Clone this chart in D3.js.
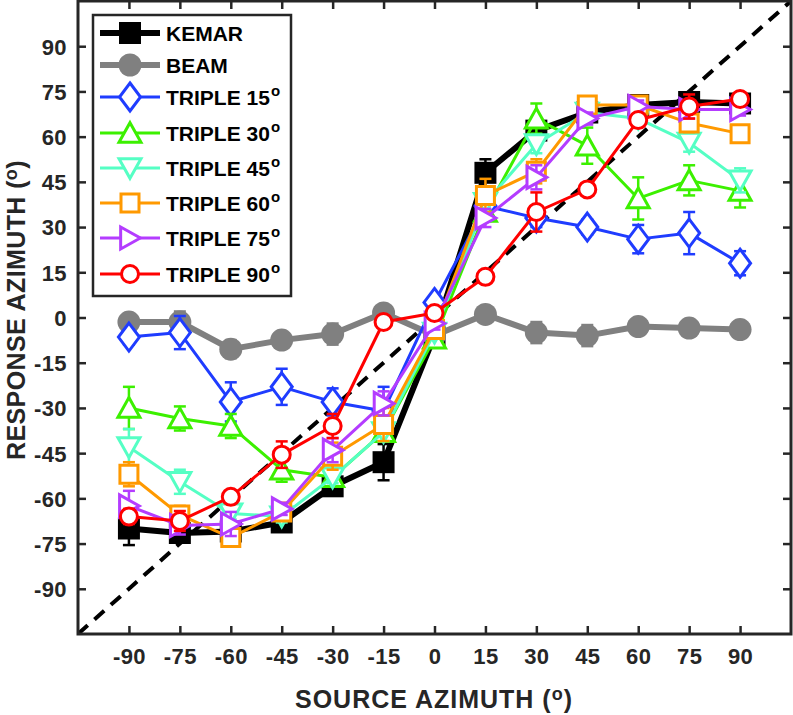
<!DOCTYPE html>
<html>
<head>
<meta charset="utf-8">
<script src="https://cdn.jsdelivr.net/npm/d3@7"></script>
<style>
  html, body { margin: 0; padding: 0; background: #fff; }
  svg { display: block; font-family: "Liberation Sans", Arial, sans-serif; font-weight: bold; }
</style>
</head>
<body>
<svg id="chart" width="793" height="715"></svg>
<script>
// ---------------- data ----------------
const sourceAz = [-90, -75, -60, -45, -30, -15, 0, 15, 30, 45, 60, 75, 90];
const tickValues = [-90, -75, -60, -45, -30, -15, 0, 15, 30, 45, 60, 75, 90];

const kemar   = [-70, -71.5, -71, -68, -56, -48, -6, 48, 62, 68, 70.5, 71.5, 71];
const beam    = [-1.5, -1.5, -10.5, -7.5, -5.5, 1.5, -6, 1, -5, -6, -3, -3.5, -4];
const triple15 = [-6.5, -5, -28, -23, -28, -31, 5, 37, 33, 30, 26, 28, 18];
const triple30 = [-30, -33.5, -36, -50.5, -53, -38, -7, 35, 66, 57, 39.5, 45.5, 42];
const triple45 = [-43, -54.5, -65, -66, -53, -38, -5, 38, 57.5, 68, 66, 58, 45.5];
const triple60 = [-52, -65.5, -73, -64.5, -46, -35.5, -4, 40.5, 48.5, 70.5, 70.5, 64.5, 61];
const triple75 = [-62.5, -69, -68.5, -63.5, -44, -28.5, -2, 33, 46.5, 66, 70, 69, 69];
const triple90 = [-66, -67.5, -59.5, -45.5, -36, -1.5, 1.5, 13.5, 35, 42.5, 65.5, 70, 72.5];

const errKemar   = [5.5, 2, 2, 2, 2, 6, 2, 4.5, 3, 2, 1.5, 2, 1.5];
const errBeam    = [2.5, 3.5, 3, 2, 3.5, 2, 2, 1.5, 3.5, 3.5, 1.5, 1.5, 1.5];
const errT15     = [2.5, 5.5, 6.5, 6, 4.5, 8, 2, 2.5, 3, 2.5, 4.7, 7, 4];
const errT30     = [7, 4, 4, 4, 2, 3, 2, 3, 5, 6, 7, 5, 5.5];
const errT45     = [6, 4, 2, 2, 2, 3, 2, 3, 3, 2, 2, 3, 4];
const errT60     = [4, 3, 2, 2, 4.5, 5.5, 2, 5.5, 4, 2, 2, 3, 2];
const errT75     = [5, 3, 4, 2, 4, 4, 2, 3, 4, 2, 2, 3, 2];
const errT90     = [2.5, 3.3, 2, 4.4, 4, 2, 2, 2, 6.5, 2, 2, 4, 2];

const seriesNames = ["KEMAR", "BEAM", "TRIPLE 15", "TRIPLE 30", "TRIPLE 45", "TRIPLE 60", "TRIPLE 75", "TRIPLE 90"];
const seriesValues = [kemar, beam, triple15, triple30, triple45, triple60, triple75, triple90];
const seriesErrors = [errKemar, errBeam, errT15, errT30, errT45, errT60, errT75, errT90];

// ---------------- styles ----------------
const styles = [
  {color: "#000000", width: 6,   marker: "square",  size: 22, fill: "#000000"},
  {color: "#808080", width: 6,   marker: "circle",  size: 23, fill: "#808080"},
  {color: "#1f3cff", width: 3,   marker: "diamond", size: 20, fill: "#ffffff"},
  {color: "#3cf000", width: 3,   marker: "tri-up",  size: 22, fill: "#ffffff"},
  {color: "#55ffc4", width: 3,   marker: "tri-down",size: 22, fill: "#ffffff"},
  {color: "#ff9900", width: 3,   marker: "square",  size: 18, fill: "#ffffff"},
  {color: "#b43cff", width: 3,   marker: "tri-right",size: 22, fill: "#ffffff"},
  {color: "#ff0000", width: 3,   marker: "circle",  size: 20, fill: "#ffffff"}
];
const legendRowY = [33, 65, 97, 133, 168, 203, 238, 274];

// ---------------- layout ----------------
const svg = d3.select("#chart");
const x = d3.scaleLinear().domain([-105, 105]).range([78, 791]);
const y = d3.scaleLinear().domain([-105, 105]).range([634, 1]);
const axisColor = "#262626";

function markerPath(type, s) {
  const h = s / 2;
  switch (type) {
    case "square": return `M${-h},${-h}H${h}V${h}H${-h}Z`;
    case "diamond": { const w = h * 1.05, v = h * 1.4; return `M0,${-v}L${w},0L0,${v}L${-w},0Z`; }
    case "tri-up": { const v = h * 0.85; return `M0,${-v - 1}L${h},${v}L${-h},${v}Z`; }
    case "tri-down": { const v = h * 0.85; return `M0,${v + 1}L${h},${-v}L${-h},${-v}Z`; }
    case "tri-right": { const v = h * 0.85; return `M${v + 1},0L${-v},${h}L${-v},${-h}Z`; }
    default: return null;
  }
}
function drawMarker(g, st, cx, cy) {
  if (st.marker === "circle") {
    g.append("circle").attr("cx", cx).attr("cy", cy)
      .attr("r", st.fill === "#ffffff" ? st.size / 2 - 1.5 : st.size / 2)
      .attr("fill", st.fill).attr("stroke", st.color)
      .attr("stroke-width", st.fill === "#ffffff" ? 3 : 0);
  } else {
    g.append("path").attr("d", markerPath(st.marker, st.size))
      .attr("transform", `translate(${cx},${cy})`)
      .attr("fill", st.fill).attr("stroke", st.color)
      .attr("stroke-width", st.fill === "#ffffff" ? 3 : 0)
      .attr("stroke-linejoin", "miter");
  }
}

// clip
svg.append("clipPath").attr("id", "plotclip").append("rect")
  .attr("x", 78).attr("y", 1).attr("width", 713).attr("height", 633);

const plot = svg.append("g").attr("clip-path", "url(#plotclip)");

// diagonal dashed line
plot.append("line")
  .attr("x1", x(-105)).attr("y1", y(-105)).attr("x2", x(105)).attr("y2", y(105))
  .attr("stroke", "#000").attr("stroke-width", 4).attr("stroke-dasharray", "13,9");

// series
seriesValues.forEach((vals, i) => {
  const st = styles[i];
  const errs = seriesErrors[i];
  const g = plot.append("g");
  const line = d3.line().x((d, j) => x(sourceAz[j])).y(d => y(d));
  g.append("path").datum(vals).attr("d", line)
    .attr("fill", "none").attr("stroke", st.color).attr("stroke-width", st.width)
    .attr("stroke-linejoin", "round");
  vals.forEach((v, j) => {
    const cx = x(sourceAz[j]);
    const e = errs[j];
    const ew = 2.5;
    g.append("line").attr("x1", cx).attr("x2", cx).attr("y1", y(v - e)).attr("y2", y(v + e))
      .attr("stroke", st.color).attr("stroke-width", ew);
    [v - e, v + e].forEach(t => {
      g.append("line").attr("x1", cx - 6).attr("x2", cx + 6).attr("y1", y(t)).attr("y2", y(t))
        .attr("stroke", st.color).attr("stroke-width", ew);
    });
  });
  vals.forEach((v, j) => drawMarker(g, st, x(sourceAz[j]), y(v)));
});

// axes (box with inward ticks on all sides)
const tickLen = 8;
const fmt = d => String(d);
const axG = svg.append("g");
const xAxisB = d3.axisBottom(x).tickValues(tickValues).tickSize(-tickLen).tickPadding(14).tickFormat(fmt);
const xAxisT = d3.axisTop(x).tickValues(tickValues).tickSize(-tickLen).tickFormat("");
const yAxisL = d3.axisLeft(y).tickValues(tickValues).tickSize(-tickLen).tickPadding(11).tickFormat(fmt);
const yAxisR = d3.axisRight(y).tickValues(tickValues).tickSize(-tickLen).tickFormat("");

function styleAxis(sel) {
  sel.select(".domain").remove();
  sel.selectAll(".tick line").attr("stroke", axisColor).attr("stroke-width", 2.5);
  sel.selectAll(".tick text").attr("fill", axisColor)
    .style("font-family", "'Liberation Sans', Arial, sans-serif")
    .style("font-weight", "bold").style("font-size", "22px")
    .style("letter-spacing", "0.4px");
}
const gxb = axG.append("g").attr("transform", "translate(0,634)").call(xAxisB).call(styleAxis);
axG.append("g").attr("transform", "translate(0,1)").call(xAxisT).call(styleAxis);
const gyl = axG.append("g").attr("transform", "translate(78,0)").call(yAxisL).call(styleAxis);
axG.append("g").attr("transform", "translate(791,0)").call(yAxisR).call(styleAxis);
gxb.selectAll(".tick text").attr("dy", "0.71em");
gyl.selectAll(".tick text").attr("dy", "0.36em");

axG.append("rect").attr("x", 78).attr("y", 1).attr("width", 713).attr("height", 633)
  .attr("fill", "none").attr("stroke", axisColor).attr("stroke-width", 3);

// axis labels
const xl = svg.append("text").attr("x", 434).attr("y", 708).attr("text-anchor", "middle")
  .attr("fill", axisColor).style("font-size", "25px").style("letter-spacing", "1px");
xl.append("tspan").text("SOURCE AZIMUTH (");
xl.append("tspan").text("o").style("font-size", "18px").attr("dy", -8);
xl.append("tspan").text(")").attr("dy", 8);

const yl = svg.append("text").attr("transform", "translate(25,310) rotate(-90)").attr("text-anchor", "middle")
  .attr("fill", axisColor).style("font-size", "25px").style("letter-spacing", "0.4px");
yl.append("tspan").text("RESPONSE AZIMUTH (");
yl.append("tspan").text("o").style("font-size", "18px").attr("dy", -8);
yl.append("tspan").text(")").attr("dy", 8);

// legend
const lg = svg.append("g");
lg.append("rect").attr("x", 93).attr("y", 15).attr("width", 198).attr("height", 281)
  .attr("fill", "#fff").attr("stroke", axisColor).attr("stroke-width", 2.5);
seriesNames.forEach((name, i) => {
  const st = styles[i];
  const ly = legendRowY[i];
  lg.append("line").attr("x1", 100).attr("x2", 160).attr("y1", ly).attr("y2", ly)
    .attr("stroke", st.color).attr("stroke-width", st.width);
  drawMarker(lg, st, 130, ly);
  const t = lg.append("text").attr("x", 166).attr("y", ly + 7.5).attr("fill", "#000")
    .style("font-size", "21px");
  t.append("tspan").text(name);
  if (name.startsWith("TRIPLE")) {
    t.append("tspan").text("o").style("font-size", "15px").attr("dy", -9).attr("dx", 1);
  }
});
</script>
</body>
</html>
